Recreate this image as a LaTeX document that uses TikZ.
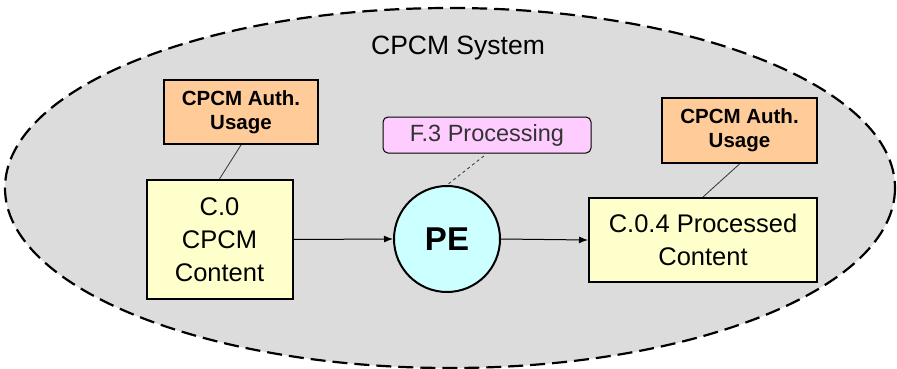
\documentclass[tikz,border=0pt]{standalone}
\usepackage{fontspec}
\setmainfont{Liberation Sans}
\usetikzlibrary{arrows.meta}
\definecolor{sysgray}{HTML}{DCDCDC}
\definecolor{authorange}{HTML}{FFCC99}
\definecolor{contyellow}{HTML}{FFFFCC}
\definecolor{procpink}{HTML}{FFCCFF}
\definecolor{pecyan}{HTML}{CCFFFF}
\tikzset{
  authbox/.style={draw=black, line width=2pt, fill=authorange, align=center,
    font=\fontsize{20.5}{24}\selectfont\bfseries, inner sep=0pt},
  contbox/.style={draw=black, line width=2pt, fill=contyellow, align=center,
    font=\fontsize{25.5}{33}\selectfont, inner sep=0pt},
  procbox/.style={draw=black, line width=1pt, fill=procpink, rounded corners=5pt,
    font=\fontsize{23.5}{26}\selectfont, inner sep=0pt, text=black!80},
  pecircle/.style={circle, draw=black, line width=2pt, fill=pecyan,
    minimum size=106pt, inner sep=0pt, font=\fontsize{33}{36}\selectfont\bfseries},
  link/.style={line width=0.8pt, draw=black!80},
  flow/.style={line width=1pt, -{Latex[length=9pt,width=7pt]}},
}
\begin{document}
\begin{tikzpicture}[x=1pt,y=-1pt]
\useasboundingbox (0,0) rectangle (897,369);
\draw[fill=sysgray, line width=2.2pt, dash pattern=on 15pt off 7pt] (450,188) ellipse [x radius=445, y radius=180];
\node[font=\fontsize{26.5}{28}\selectfont] (title) at (458,48) {CPCM System};
\node[authbox, minimum width=154pt, minimum height=64pt] (authL) at (241,112) {CPCM Auth.\\Usage};
\node[contbox, minimum width=146pt, minimum height=119pt] (cL) at (219.5,239.5) {C.0\\CPCM\\Content};
\node[procbox, minimum width=208pt, minimum height=36pt] (proc) at (487,135) {F.3 Processing};
\node[pecircle] (pe) at (447,239) {PE};
\node[contbox, minimum width=228pt, minimum height=84pt] (cR) at (703,240) {C.0.4 Processed\\Content};
\node[authbox, minimum width=155pt, minimum height=65pt] (authR) at (739.5,130.5) {CPCM Auth.\\Usage};
\draw[link] (authL.south) -- (cL.north);
\draw[link] (authR.south) -- (cR.north);
\draw[link, dashed, shorten <=4pt] (proc.south) -- (pe.north);
\draw[flow] (cL.east) -- (pe.west);
\draw[flow] (pe.east) -- (cR.west);
\end{tikzpicture}
\end{document}
